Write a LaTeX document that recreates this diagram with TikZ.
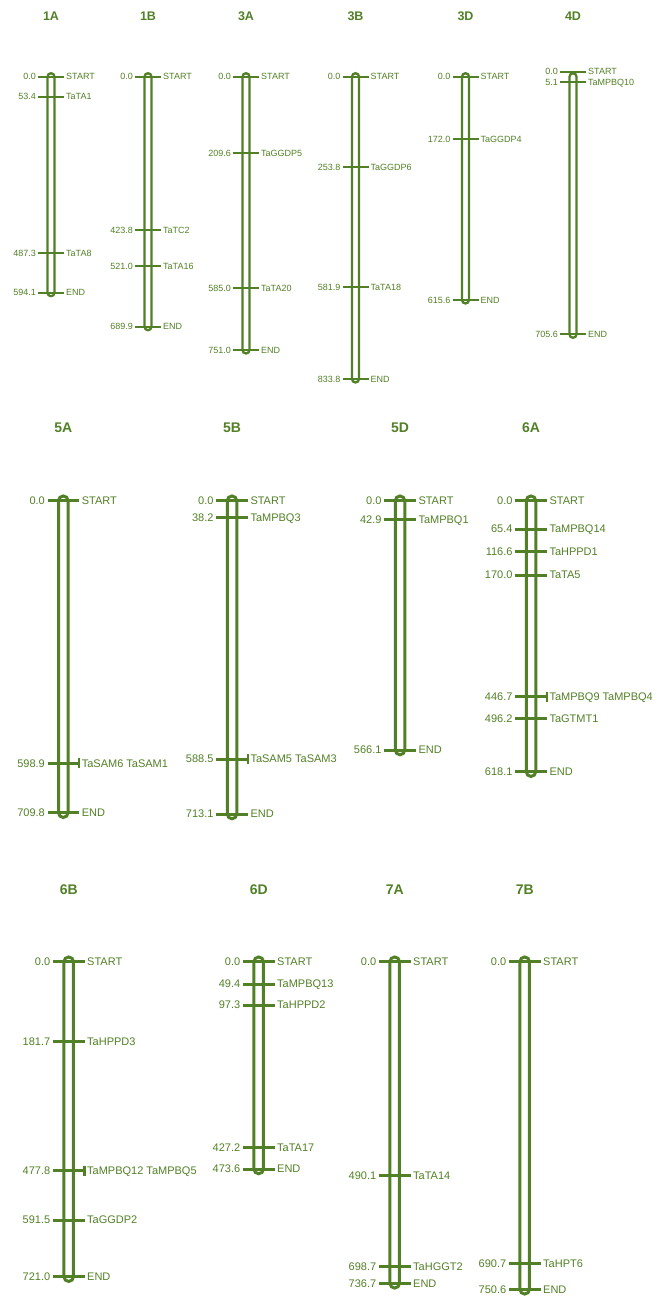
\documentclass[tikz,border=0pt]{standalone}
\usepackage{fontspec}
\setmainfont{Liberation Sans}
\usepackage{tikz}
\usetikzlibrary{positioning}
\definecolor{leafgreen}{RGB}{82,128,38}

% one linkage group: name, x, title y, y of START, y of END, marks (y/cM/locus)
\newcommand{\chromo}[6]{%
  \node[chrtitle] (t#1) at (#2,#3) {#1};
  \draw[chrom] (#2-\chw,#4-\chw) rectangle (#2+\chw,#5+\chw);
  \foreach \yy/\vv/\nn [count=\i] in {#6} {
    \node[cmval] (#1-p\i) at (#2-\tickh,\yy) {\vv};
    \node[cmname] (#1-m\i) at (#2+\tickh,\yy) {\nn};
    \draw[tickmark] (#1-p\i) -- (#1-m\i);
  }%
}

\begin{document}
\begin{tikzpicture}[x=1pt, y=-1pt,
  chrom/.style={draw=leafgreen, line width=3pt, rounded corners=4.75pt},
  tickmark/.style={draw=leafgreen, line width=3pt},
  lbl/.style={text=leafgreen, font=\fontsize{11}{12}\selectfont,
              text height=7.9pt, text depth=0pt, inner ysep=0pt, inner xsep=2.5pt},
  cmval/.style={lbl, anchor=east},
  cmname/.style={lbl, anchor=west},
  chrtitle/.style={text=leafgreen, font=\bfseries\fontsize{14}{16}\selectfont},
  toprow/.style={chrom/.append style={line width=2.3pt, rounded corners=3.5pt},
                 tickmark/.append style={line width=2.3pt},
                 lbl/.append style={font=\fontsize{9}{10}\selectfont,
                                    text height=6.4pt, inner xsep=2pt},
                 chrtitle/.append style={font=\bfseries\fontsize{12.5}{14}\selectfont}}]
  \useasboundingbox (0,0) rectangle (662,1296);

  % first row
  \begin{scope}[toprow]
    \def\chw{3.5}\def\tickh{13}
    \chromo{1A}{51}{16}{76.7}{292.7}{76.7/0.0/START, 96.7/53.4/TaTA1,
      253.3/487.3/TaTA8, 292.7/594.1/END}
    \chromo{1B}{148}{16}{76.7}{326.7}{76.7/0.0/START, 230/423.8/TaTC2,
      266/521.0/TaTA16, 326.7/689.9/END}
    \chromo{3A}{246}{16}{76.7}{350}{76.7/0.0/START, 153.3/209.6/TaGGDP5,
      288.3/585.0/TaTA20, 350/751.0/END}
    \chromo{3B}{355.5}{16}{76.7}{379}{76.7/0.0/START, 167.3/253.8/TaGGDP6,
      287.3/581.9/TaTA18, 379/833.8/END}
    \chromo{3D}{465.5}{16}{76.7}{300}{76.7/0.0/START, 139.3/172.0/TaGGDP4,
      300/615.6/END}
    \chromo{4D}{573}{16}{76.7}{334.3}{71.7/0.0/START, 82.3/5.1/TaMPBQ10,
      334.3/705.6/END}
  \end{scope}

  % second row
  \def\chw{4.75}\def\tickh{15.8}
  \chromo{5A}{63.3}{427.3}{500.7}{812.7}{500.7/0.0/START,
    763.3/598.9/TaSAM6 TaSAM1, 812.7/709.8/END}
  \chromo{5B}{232}{427.3}{500.7}{814}{500.7/0.0/START, 517.3/38.2/TaMPBQ3,
    759/588.5/TaSAM5 TaSAM3, 814/713.1/END}
  \chromo{5D}{400}{427.3}{500.7}{750}{500.7/0.0/START, 519.3/42.9/TaMPBQ1,
    750/566.1/END}
  \chromo{6A}{531}{427.3}{500.7}{771.7}{500.7/0.0/START, 529/65.4/TaMPBQ14,
    551.7/116.6/TaHPPD1, 575/170.0/TaTA5, 696.7/446.7/TaMPBQ9 TaMPBQ4,
    718.3/496.2/TaGTMT1, 771.7/618.1/END}

  % third row
  \chromo{6B}{68.7}{889.3}{961.7}{1276.7}{961.7/0.0/START, 1041.7/181.7/TaHPPD3,
    1170.7/477.8/TaMPBQ12 TaMPBQ5, 1220/591.5/TaGGDP2, 1276.7/721.0/END}
  \chromo{6D}{258.7}{889.3}{961.7}{1169}{961.7/0.0/START, 984/49.4/TaMPBQ13,
    1005/97.3/TaHPPD2, 1147.7/427.2/TaTA17, 1169/473.6/END}
  \chromo{7A}{394.7}{889.3}{961.7}{1283.3}{961.7/0.0/START, 1175.7/490.1/TaTA14,
    1266.7/698.7/TaHGGT2, 1283.3/736.7/END}
  \chromo{7B}{524.7}{889.3}{961.7}{1289.3}{961.7/0.0/START, 1263.3/690.7/TaHPT6,
    1289.3/750.6/END}

  % loci sharing one position
  \foreach \m in {5A-m2, 5B-m3, 6A-m5, 6B-m3}
    \draw[tickmark, line width=2.5pt] ([yshift=5pt]\m.west) -- ([yshift=-5pt]\m.west);
\end{tikzpicture}
\end{document}
